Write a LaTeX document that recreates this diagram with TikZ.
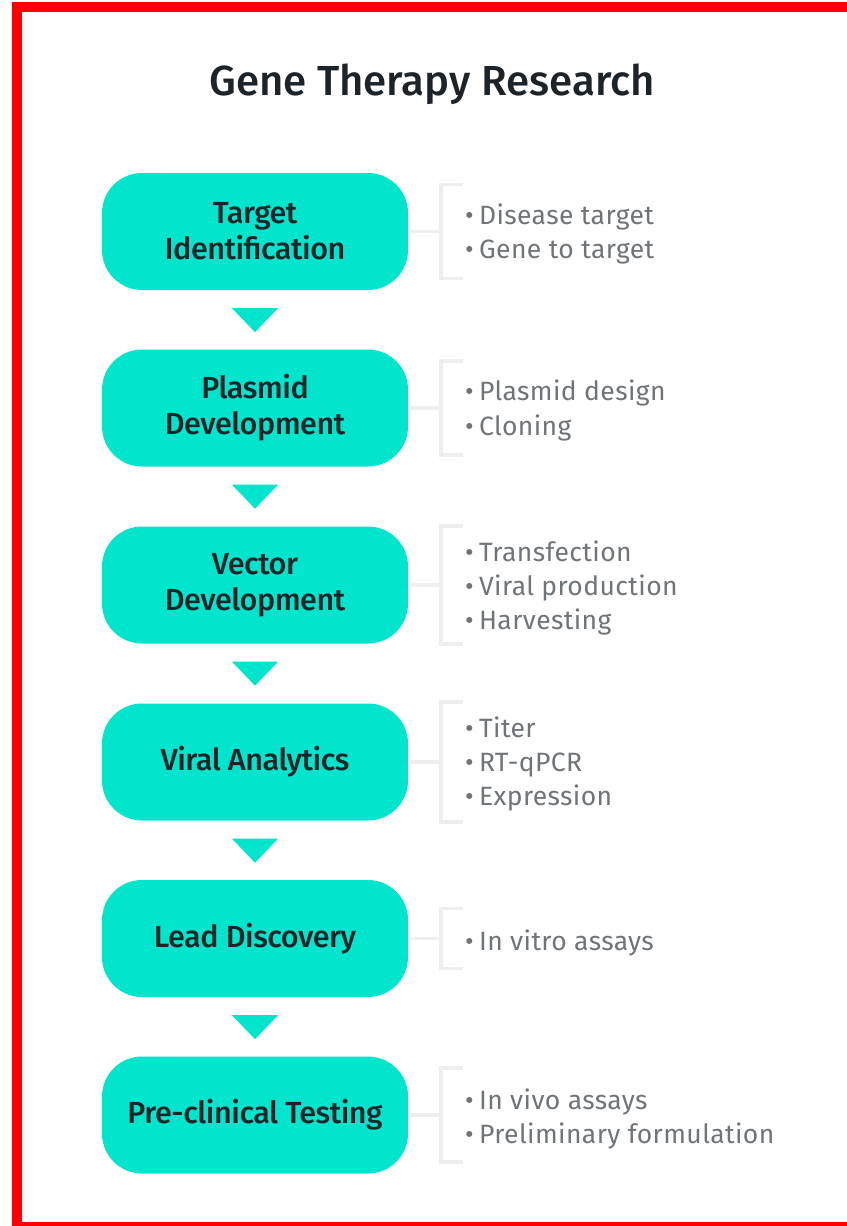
\documentclass[tikz,border=0pt]{standalone}
\usepackage{fontspec}
\setmainfont{Fira Sans}
\newfontfamily\mediumfont{Fira Sans Medium}
\newfontfamily\stagefont{Fira Sans Medium}[LetterSpace=-1.5]
\newfontfamily\notefont{Fira Sans}[LetterSpace=1.5]
\usetikzlibrary{calc}

\definecolor{stageteal}{HTML}{00E5CC}
\definecolor{stageink}{HTML}{1C2329}
\definecolor{notegrey}{HTML}{6F7479}
\definecolor{bracegrey}{HTML}{EEEEEE}
\definecolor{framered}{HTML}{FF0000}

\newcommand\itemdot{\textbullet\hspace{0.2em}}

\tikzset{
  stage/.style={fill=stageteal, rounded corners=40pt, minimum width=306pt,
    minimum height=117pt, inner sep=0pt, align=center, text=stageink,
    font=\stagefont\fontsize{30.5}{36}\selectfont},
  note/.style={anchor=west, inner sep=0pt, text height=18.3pt, text depth=0pt,
    text=notegrey, font=\notefont\fontsize{26.5}{32}\selectfont},
  brace/.style={draw=bracegrey, line width=3.5pt},
  heading/.style={inner sep=0pt, text height=29pt, text depth=0pt,
    text=stageink, font=\mediumfont\fontsize{42}{50}\selectfont},
}

\begin{document}
\begin{tikzpicture}[x=1pt, y=-1pt]
    \useasboundingbox (0,0) rectangle (846,1226);
    \draw[framered, line width=10pt] (17,7.4) rectangle (880,1227);

    \node[heading] (title) at (432,80.5) {Gene Therapy Research};

    % stages
    \node[stage] (target)  at (255,231.5) {Target\\Identification};
    \node[stage] (plasmid) at (255,408)   {Plasmid\\Development};
    \node[stage] (vector)  at (255,585)   {Vector\\Development};
    \node[stage] (viral)   at (255,762)   {Viral Analytics};
    \node[stage] (lead)    at (255,938.5) {Lead Discovery};
    \node[stage] (preclin) at (255,1115)  {Pre-clinical Testing};

    % arrows down between stages
    \foreach \s in {target,plasmid,vector,viral,lead}
        \fill[stageteal] ($(\s.south)+(-23,18)$) -- ($(\s.south)+(23,18)$)
            -- ($(\s.south)+(0,42)$) -- cycle;

    % side brackets, half height depends on number of items
    \foreach \s/\h in {target/47,plasmid/47,vector/59,viral/60,lead/30,preclin/47} {
        \coordinate (\s-br) at ($(\s.east)+(33,0)$);
        \draw[brace] (\s.east) -- (\s-br);
        \draw[brace] ($(\s-br)+(22,-\h)$) -- ($(\s-br)+(0,-\h)$)
            -- ($(\s-br)+(0,\h)$) -- ($(\s-br)+(22,\h)$);
    }

    % notes
    \node[note] (target-n1)  at (465,215)   {\itemdot Disease target};
    \node[note] (target-n2)  at (465,249.5) {\itemdot Gene to target};
    \node[note] (plasmid-n1) at (465,391.5) {\itemdot Plasmid design};
    \node[note] (plasmid-n2) at (465,426)   {\itemdot Cloning};
    \node[note] (vector-n1)  at (465,552)   {\itemdot Transfection};
    \node[note] (vector-n2)  at (465,586)   {\itemdot Viral production};
    \node[note] (vector-n3)  at (465,620)   {\itemdot Harvesting};
    \node[note] (viral-n1)   at (465,728)   {\itemdot Titer};
    \node[note] (viral-n2)   at (465,762.5) {\itemdot RT-qPCR};
    \node[note] (viral-n3)   at (465,796.5) {\itemdot Expression};
    \node[note] (lead-n1)    at (465,941)   {\itemdot In vitro assays};
    \node[note] (preclin-n1) at (465,1100.5){\itemdot In vivo assays};
    \node[note] (preclin-n2) at (465,1134)  {\itemdot Preliminary formulation};
\end{tikzpicture}
\end{document}
